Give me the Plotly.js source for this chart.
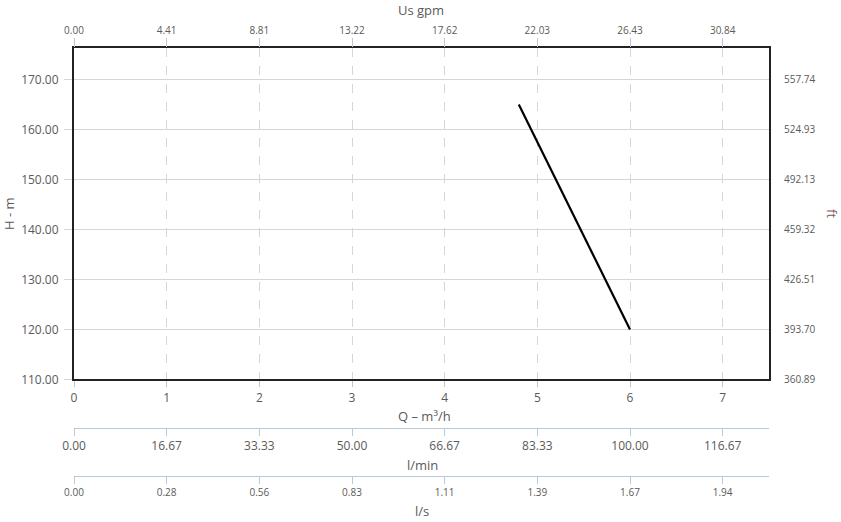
<!DOCTYPE html>
<html>
<head>
<meta charset="utf-8">
<script src="https://cdn.plot.ly/plotly-3.0.1.min.js"></script>
<style>html,body{margin:0;padding:0;background:#fff;}#chart{width:841px;height:522px;}</style>
</head>
<body>
<div id="chart"></div>
<script>
// Data
const flowQ = [4.8, 6.0];          // Q – m³/h
const headH = [165, 120];          // H – m
const qRange = [0, 7.5];
const hRange = [110, 176.3];
// unit factors used by the secondary axes
const gpmPerM3h = 4.4057;
const lminPerM3h = 16.6667;
const lsPerM3h = 0.277778;
const ftPerM = 3.28084;

const tickColor = '#5a5a5a';
const axisBlue = '#b9c9da';
const font = 'Open Sans, Arial, sans-serif';

const traces = [
  {x: flowQ, y: headH, type: 'scatter', mode: 'lines', line: {color: '#000', width: 2.2}, xaxis: 'x', yaxis: 'y', hoverinfo: 'skip', showlegend: false},
  {x: [], y: [], type: 'scatter', xaxis: 'x2', yaxis: 'y', showlegend: false},
  {x: [], y: [], type: 'scatter', xaxis: 'x3', yaxis: 'y', showlegend: false},
  {x: [], y: [], type: 'scatter', xaxis: 'x4', yaxis: 'y', showlegend: false},
  {x: [], y: [], type: 'scatter', xaxis: 'x', yaxis: 'y2', showlegend: false}
];

const yBottom = 0.2932;
const layout = {
  width: 841, height: 522,
  margin: {l: 74, r: 72, t: 48, b: 5},
  paper_bgcolor: '#fff', plot_bgcolor: '#fff',
  font: {family: font, color: tickColor, size: 12},
  showlegend: false,
  xaxis: {
    range: qRange, dtick: 1, tick0: 0, domain: [0, 1], anchor: 'y',
    showgrid: true, gridcolor: '#d6d6d6', griddash: 'dash', gridwidth: 1,
    showline: true, linecolor: '#222', linewidth: 2, mirror: true,
    ticks: 'outside', ticklen: 6, tickcolor: axisBlue,
    tickfont: {size: 12, color: tickColor}, zeroline: false
  },
  xaxis2: {
    overlaying: 'x', side: 'top', anchor: 'y',
    range: [qRange[0] * gpmPerM3h, qRange[1] * gpmPerM3h], tick0: 0, dtick: gpmPerM3h, tickformat: '.2f',
    showgrid: false, zeroline: false, showline: false,
    ticks: 'outside', ticklen: 9, tickcolor: axisBlue,
    tickfont: {size: 10, color: tickColor}
  },
  xaxis3: {
    overlaying: 'x', side: 'bottom', anchor: 'free', position: 0.1898,
    range: [qRange[0] * lminPerM3h, qRange[1] * lminPerM3h], tick0: 0, dtick: lminPerM3h, tickformat: '.2f',
    showgrid: false, zeroline: false, showline: true, linecolor: axisBlue, linewidth: 1,
    ticks: 'outside', ticklen: 7, tickcolor: axisBlue,
    tickfont: {size: 12, color: tickColor}
  },
  xaxis4: {
    overlaying: 'x', side: 'bottom', anchor: 'free', position: 0.0874,
    range: [qRange[0] * lsPerM3h, qRange[1] * lsPerM3h], tick0: 0, dtick: lsPerM3h, tickformat: '.2f',
    showgrid: false, zeroline: false, showline: true, linecolor: axisBlue, linewidth: 1,
    ticks: 'outside', ticklen: 7, tickcolor: axisBlue,
    tickfont: {size: 10, color: tickColor}
  },
  yaxis: {
    range: hRange, tick0: 110, dtick: 10, tickformat: '.2f', domain: [yBottom, 1], anchor: 'x',
    showgrid: true, gridcolor: '#d6d6d6', gridwidth: 1,
    showline: true, linecolor: '#222', linewidth: 2, mirror: true,
    ticks: 'outside', ticklen: 8, tickcolor: '#d6d6d6', ticklabelstandoff: 3,
    tickfont: {size: 12, color: tickColor}, zeroline: false
  },
  yaxis2: {
    overlaying: 'y', side: 'right', anchor: 'x',
    range: [hRange[0] * ftPerM, hRange[1] * ftPerM], tick0: hRange[0] * ftPerM, dtick: 10 * ftPerM, tickformat: '.2f',
    showgrid: false, zeroline: false, showline: false,
    ticks: 'outside', ticklen: 12, tickcolor: 'rgba(0,0,0,0)',
    tickfont: {size: 10, color: tickColor}
  },
  annotations: [
    {text: 'Us gpm', xref: 'paper', yref: 'paper', x: 0.499, y: 1.081, showarrow: false, font: {size: 13, color: tickColor}, xanchor: 'center', yanchor: 'middle'},
    {text: 'Q – m³/h', xref: 'paper', yref: 'paper', x: 0.505, y: 0.2154, showarrow: false, font: {size: 13, color: tickColor}, xanchor: 'center', yanchor: 'middle'},
    {text: 'l/min', xref: 'paper', yref: 'paper', x: 0.501, y: 0.1109, showarrow: false, font: {size: 13, color: tickColor}, xanchor: 'center', yanchor: 'middle'},
    {text: 'l/s', xref: 'paper', yref: 'paper', x: 0.501, y: 0.0128, showarrow: false, font: {size: 13, color: tickColor}, xanchor: 'center', yanchor: 'middle'},
    {text: 'H - m', xref: 'paper', yref: 'paper', x: -0.0935, y: 0.646, textangle: -90, showarrow: false, font: {size: 13, color: tickColor}, xanchor: 'center', yanchor: 'middle'},
    {text: 'ft', xref: 'paper', yref: 'paper', x: 1.0906, y: 0.646, textangle: 90, showarrow: false, font: {size: 13, color: '#7a5a5a'}, xanchor: 'center', yanchor: 'middle'}
  ]
};

Plotly.newPlot('chart', traces, layout, {displayModeBar: false, staticPlot: true});
</script>
</body>
</html>
